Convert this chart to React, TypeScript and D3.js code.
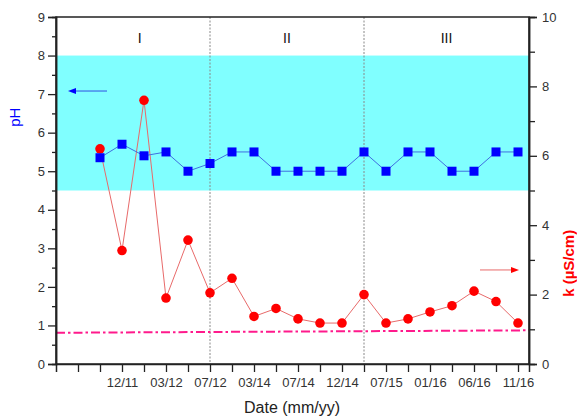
import { useEffect, useRef } from "react";
import * as d3 from "d3";

// sampling positions (index on the date axis)
const sampleIdx = [2, 3, 4, 5, 6, 7, 8, 9, 10, 11, 12, 13, 14, 15, 16, 17, 18, 19, 20, 21];
const phValues = [5.35, 5.7, 5.4, 5.5, 5.0, 5.2, 5.5, 5.5, 5.0, 5.0, 5.0, 5.0, 5.5, 5.0, 5.5, 5.5, 5.0, 5.0, 5.5, 5.5];
const kValues = [6.2, 3.27, 7.6, 1.9, 3.57, 2.05, 2.47, 1.37, 1.6, 1.3, 1.18, 1.18, 2.0, 1.18, 1.3, 1.5, 1.68, 2.1, 1.8, 1.18];

// date tick labels (every second tick)
const dateTicks = [3, 5, 7, 9, 11, 13, 15, 17, 19, 21];
const dateLabels = ["12/11", "03/12", "07/12", "03/14", "07/14", "12/14", "07/15", "01/16", "06/16", "11/16"];

// periods
const periodBreaks = [7, 14];
const periodLabels = ["I", "II", "III"];
const periodCenters = [3.8, 10.5, 17.75];

// pH band and threshold line
const phBand = [4.5, 8.0];
const thresholdK = [0.9, 0.97];

const width = 577;
const height = 419;
const margin = { top: 17, right: 48, bottom: 55, left: 56 };

const drawChart = (node: SVGSVGElement) => {
  const svg = d3.select(node);
  svg.selectAll("*").remove();

  const innerW = width - margin.left - margin.right;
  const innerH = height - margin.top - margin.bottom;

  const x = d3.scaleLinear().domain([0, 21.5]).range([margin.left, margin.left + innerW]);
  const yL = d3.scaleLinear().domain([0, 9]).range([margin.top + innerH, margin.top]);
  const yR = d3.scaleLinear().domain([0, 10]).range([margin.top + innerH, margin.top]);

  const font = "Arial, 'Liberation Sans', sans-serif";

  // pH band
  svg.append("rect")
    .attr("x", x(0))
    .attr("y", yL(phBand[1]))
    .attr("width", x(21.5) - x(0))
    .attr("height", yL(phBand[0]) - yL(phBand[1]))
    .attr("fill", "#80ffff");

  // period separators
  svg.selectAll(".sep")
    .data(periodBreaks)
    .join("line")
    .attr("x1", d => x(d)).attr("x2", d => x(d))
    .attr("y1", yL(9)).attr("y2", yL(0))
    .attr("stroke", "#888")
    .attr("stroke-width", 1)
    .attr("stroke-dasharray", "2,1.5");

  svg.selectAll(".period")
    .data(periodLabels)
    .join("text")
    .attr("x", (d, i) => x(periodCenters[i]))
    .attr("y", 43)
    .attr("text-anchor", "middle")
    .attr("font-family", font)
    .attr("font-size", 14)
    .attr("fill", "#111")
    .text(d => d);

  // threshold dash-dot line
  svg.append("line")
    .attr("x1", x(0)).attr("x2", x(21.5))
    .attr("y1", yR(thresholdK[0])).attr("y2", yR(thresholdK[1]))
    .attr("stroke", "#ff1a8c")
    .attr("stroke-width", 2)
    .attr("stroke-dasharray", "9,3,2.5,3");

  // k series
  const lineK = d3.line<number>().x((d, i) => x(sampleIdx[i])).y(d => yR(d));
  svg.append("path")
    .attr("d", lineK(kValues))
    .attr("fill", "none")
    .attr("stroke", "#e86a6a")
    .attr("stroke-width", 1);
  svg.selectAll(".kpt")
    .data(kValues)
    .join("circle")
    .attr("cx", (d, i) => x(sampleIdx[i]))
    .attr("cy", d => yR(d))
    .attr("r", 4.8)
    .attr("fill", "#ff0000");

  // pH series
  const linePh = d3.line<number>().x((d, i) => x(sampleIdx[i])).y(d => yL(d));
  svg.append("path")
    .attr("d", linePh(phValues))
    .attr("fill", "none")
    .attr("stroke", "#3f6fe0")
    .attr("stroke-width", 1);
  svg.selectAll(".phpt")
    .data(phValues)
    .join("rect")
    .attr("x", (d, i) => x(sampleIdx[i]) - 4.5)
    .attr("y", d => yL(d) - 4.5)
    .attr("width", 9)
    .attr("height", 9)
    .attr("fill", "#0000ff");

  // arrows
  svg.append("line")
    .attr("x1", 107).attr("x2", 74)
    .attr("y1", yL(7.08)).attr("y2", yL(7.08))
    .attr("stroke", "#3050e0").attr("stroke-width", 1);
  svg.append("path")
    .attr("d", `M68,${yL(7.08)} l8,-3 l0,6 z`)
    .attr("fill", "#0000ff");
  svg.append("line")
    .attr("x1", 480).attr("x2", 512)
    .attr("y1", yR(2.71)).attr("y2", yR(2.71))
    .attr("stroke", "#e86a6a").attr("stroke-width", 1);
  svg.append("path")
    .attr("d", `M519,${yR(2.71)} l-8,-3 l0,6 z`)
    .attr("fill", "#ff0000");

  // frame
  svg.append("rect")
    .attr("x", x(0)).attr("y", yL(9))
    .attr("width", x(21.5) - x(0)).attr("height", yL(0) - yL(9))
    .attr("fill", "none")
    .attr("stroke", "#222")
    .attr("stroke-width", 1.5);

  // left axis
  const leftAxis = svg.append("g")
    .attr("transform", `translate(${x(0)},0)`)
    .call(d3.axisLeft(yL).ticks(9).tickSize(8).tickPadding(3).tickFormat(d3.format("d")));
  leftAxis.append("g").call(
    d3.axisLeft(yL).tickValues(d3.range(0.5, 9, 1)).tickSize(4).tickFormat(() => ""));

  // right axis
  const rightAxis = svg.append("g")
    .attr("transform", `translate(${x(21.5)},0)`)
    .call(d3.axisRight(yR).tickValues([0, 2, 4, 6, 8, 10]).tickSize(8).tickPadding(5).tickFormat(d3.format("d")));
  rightAxis.append("g").call(
    d3.axisRight(yR).tickValues([1, 3, 5, 7, 9]).tickSize(6).tickFormat(() => ""));

  // bottom axis
  svg.append("g")
    .attr("transform", `translate(0,${yL(0)})`)
    .call(d3.axisBottom(x)
      .tickValues(d3.range(1, 22, 1))
      .tickSize(8)
      .tickPadding(6)
      .tickFormat(d => {
        const k = dateTicks.indexOf(+d);
        return k >= 0 ? dateLabels[k] : "";
      }));

  svg.selectAll(".domain").attr("stroke", "#222").attr("stroke-width", 1.5);
  svg.selectAll(".tick line").attr("stroke", "#222").attr("stroke-width", 1.3);
  svg.selectAll(".tick text")
    .attr("font-family", font)
    .attr("font-size", 13)
    .attr("fill", "#333");

  // axis titles
  svg.append("text")
    .attr("transform", `translate(20,${yL(6.4)}) rotate(-90)`)
    .attr("text-anchor", "middle")
    .attr("font-family", font)
    .attr("font-size", 15)
    .attr("fill", "#0000ff")
    .text("pH");

  svg.append("text")
    .attr("transform", `translate(574,${yR(2.9)}) rotate(-90)`)
    .attr("text-anchor", "middle")
    .attr("font-family", font)
    .attr("font-size", 15)
    .attr("font-weight", "bold")
    .attr("fill", "#ff0000")
    .text("k (\u00b5S/cm)");

  svg.append("text")
    .attr("x", 292)
    .attr("y", 413)
    .attr("text-anchor", "middle")
    .attr("font-family", font)
    .attr("font-size", 16)
    .attr("fill", "#222")
    .text("Date (mm/yy)");
};

export default function App() {
  const ref = useRef<SVGSVGElement>(null);
  useEffect(() => {
    if (ref.current) drawChart(ref.current);
  }, []);
  return (
    <svg
      ref={ref}
      width={width}
      height={height}
      style={{ position: "absolute", left: 0, top: 0, background: "#fff" }}
    />
  );
}
